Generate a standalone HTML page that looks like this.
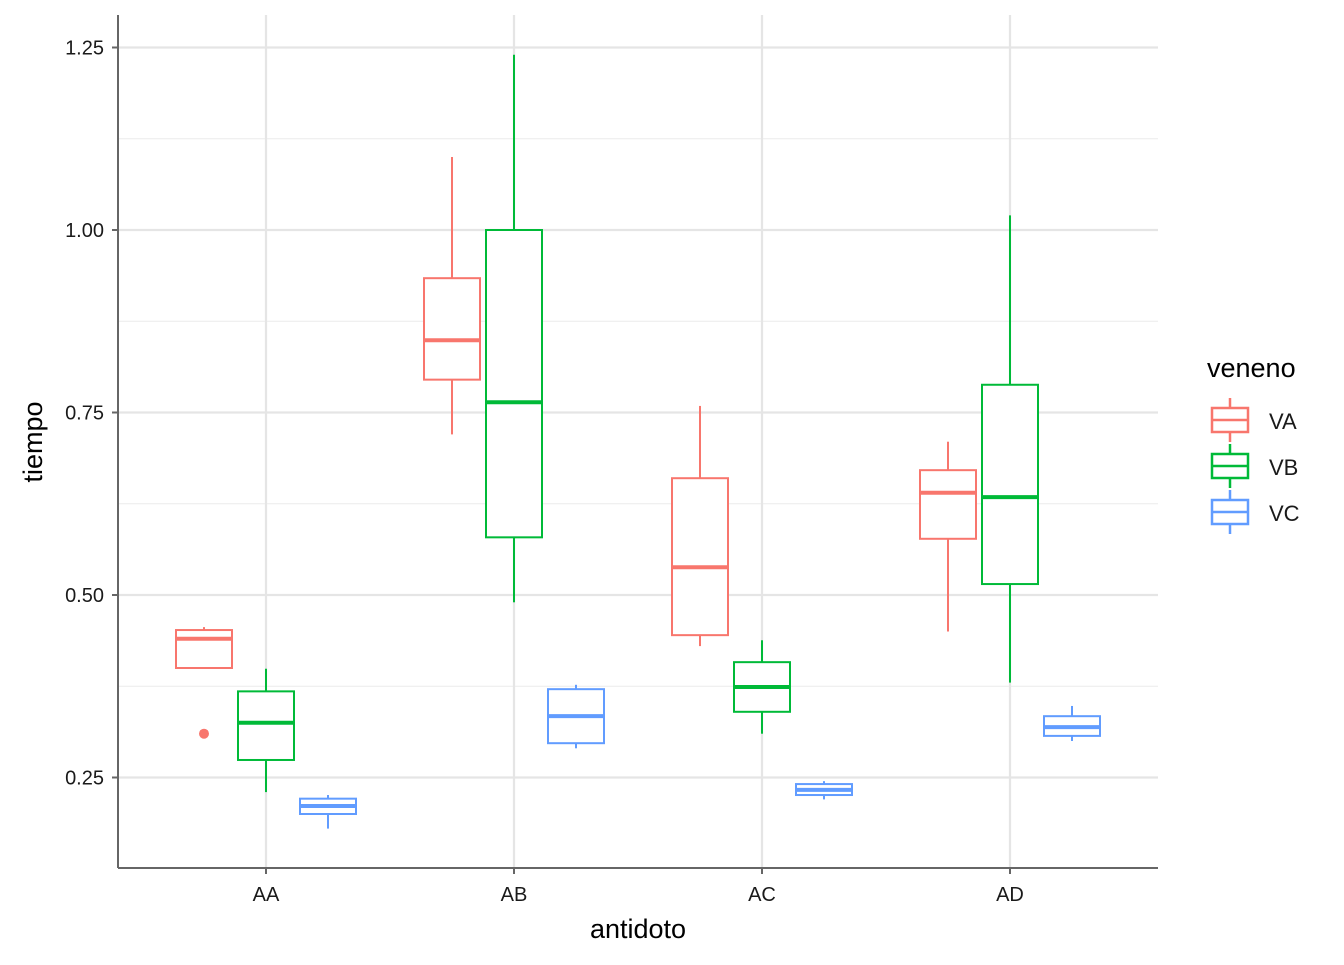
<!DOCTYPE html>
<html><head><meta charset="utf-8"><style>
html,body{margin:0;padding:0;background:#fff;}
svg text{font-family:"Liberation Sans",sans-serif;}
</style></head><body>
<svg id="chart" width="1344" height="960" xmlns="http://www.w3.org/2000/svg">
<g id="grid"></g>
<g id="boxes"></g>
<g id="axes"></g>
<g id="legend"></g>
</svg>
<script>
const categories = ["AA","AB","AC","AD"];
const groups = ["VA","VB","VC"];
const colors = ["#F8766D","#00BA38","#619CFF"];
const yTicks = [0.25,0.5,0.75,1.0,1.25];
const yTickLabels = ["0.25","0.50","0.75","1.00","1.25"];
const yMinorTicks = [0.375,0.625,0.875,1.125];
// [low, q1, median, q3, high] per category, per group
const statsVA = [[0.40,0.40,0.44,0.452,0.456],[0.72,0.795,0.849,0.934,1.10],[0.43,0.445,0.538,0.66,0.759],[0.45,0.577,0.64,0.671,0.71]];
const statsVB = [[0.23,0.274,0.325,0.368,0.399],[0.49,0.579,0.764,1.00,1.24],[0.31,0.34,0.374,0.408,0.438],[0.38,0.515,0.634,0.788,1.02]];
const statsVC = [[0.18,0.20,0.211,0.221,0.226],[0.29,0.297,0.334,0.371,0.377],[0.22,0.226,0.233,0.241,0.245],[0.30,0.307,0.319,0.334,0.348]];
const outliersCat = ["AA"];
const outliersGroup = ["VA"];
const outliersVal = [0.31];

const NS="http://www.w3.org/2000/svg";
const L=118,R=1158,T=15,B=868;
const y=v=>230+(1-v)*730;
const x=c=>266+categories.indexOf(c)*248;
const off=g=>(groups.indexOf(g)-1)*62;
function mk(p,tag,a){const e=document.createElementNS(NS,tag);for(const k in a)e.setAttribute(k,a[k]);p.appendChild(e);return e;}
const grid=document.getElementById('grid'),boxes=document.getElementById('boxes'),axes=document.getElementById('axes'),leg=document.getElementById('legend');

yMinorTicks.forEach(v=>{const l=mk(grid,'line',{x1:L,x2:R,y1:y(v),y2:y(v),stroke:'#EBEBEB','stroke-width':1.1});

});
yTicks.forEach(v=>{const l=mk(grid,'line',{x1:L,x2:R,y1:y(v),y2:y(v),stroke:'#E5E5E5','stroke-width':2.2});

});
categories.forEach(c=>{const l=mk(grid,'line',{x1:x(c),x2:x(c),y1:T,y2:B,stroke:'#E5E5E5','stroke-width':2.2});

});

const allStats=[statsVA,statsVB,statsVC];
groups.forEach((g,gi)=>{categories.forEach((c,ci)=>{
 const s=allStats[gi][ci];const cx=x(c)+off(g);const col=colors[gi];
 const grp=mk(boxes,'g',{});
 
 
 mk(grp,'line',{x1:cx,x2:cx,y1:y(s[4]),y2:y(s[3]),stroke:col,'stroke-width':2});
 mk(grp,'line',{x1:cx,x2:cx,y1:y(s[1]),y2:y(s[0]),stroke:col,'stroke-width':2});
 mk(grp,'rect',{x:cx-28,y:y(s[3]),width:56,height:y(s[1])-y(s[3]),fill:'#fff',stroke:col,'stroke-width':2});
 mk(grp,'line',{x1:cx-28,x2:cx+28,y1:y(s[2]),y2:y(s[2]),stroke:col,'stroke-width':4});
});});
outliersVal.forEach((v,i)=>{const gi=groups.indexOf(outliersGroup[i]);
 const c=mk(boxes,'circle',{cx:x(outliersCat[i])+off(outliersGroup[i]),cy:y(v),r:5,fill:colors[gi]});
 
 });

mk(axes,'line',{x1:L,x2:L,y1:T,y2:B,stroke:'#666','stroke-width':2});
mk(axes,'line',{x1:L,x2:R,y1:B,y2:B,stroke:'#666','stroke-width':2});
yTicks.forEach((v,i)=>{mk(axes,'line',{x1:L-6,x2:L,y1:y(v),y2:y(v),stroke:'#666','stroke-width':2});
 const t=mk(axes,'text',{x:L-14,y:y(v)+7,'text-anchor':'end','font-size':20,fill:'#1a1a1a'});t.textContent=yTickLabels[i];
 
 });
categories.forEach(c=>{mk(axes,'line',{x1:x(c),x2:x(c),y1:B,y2:B+6,stroke:'#666','stroke-width':2});
 const t=mk(axes,'text',{x:x(c),y:B+33,'text-anchor':'middle','font-size':20,fill:'#1a1a1a'});t.textContent=c;
 
 });
let t=mk(axes,'text',{x:638,y:938,'text-anchor':'middle','font-size':27,fill:'#000'});t.textContent='antidoto';


t=mk(axes,'text',{x:0,y:0,'text-anchor':'middle','font-size':27,fill:'#000',transform:'translate(42,442) rotate(-90)'});t.textContent='tiempo';



t=mk(leg,'text',{x:1207,y:377,'font-size':27,fill:'#000'});t.textContent='veneno';


groups.forEach((g,i)=>{const cy=420+i*46;const col=colors[i];
 const e=mk(leg,'g',{});
 
 
 mk(e,'line',{x1:1230,x2:1230,y1:cy-22,y2:cy+22,stroke:col,'stroke-width':2.5});
 mk(e,'rect',{x:1212,y:cy-12,width:36,height:24,fill:'#fff',stroke:col,'stroke-width':2.5});
 mk(e,'line',{x1:1212,x2:1248,y1:cy,y2:cy,stroke:col,'stroke-width':2.5});
 const tt=mk(e,'text',{x:1269,y:cy+9,'font-size':22,fill:'#1a1a1a'});tt.textContent=g;});
</script>
</body></html>
